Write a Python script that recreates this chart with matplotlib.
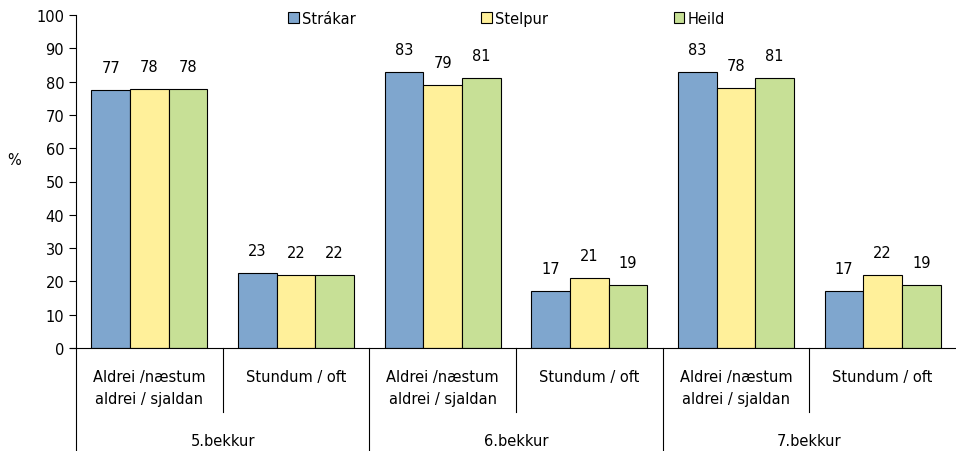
import matplotlib.pyplot as plt
import numpy as np

# values per sub-category (5., 6., 7. bekkur x two answers)
subcats = ["Aldrei /næstum\naldrei / sjaldan", "Stundum / oft"] * 3
groups = ["5.bekkur", "6.bekkur", "7.bekkur"]
strakar = [77.4, 22.6, 83.0, 17.0, 83.0, 17.0]
stelpur = [77.9, 22.0, 79.0, 21.0, 78.0, 22.0]
heild = [77.9, 22.0, 81.0, 19.0, 81.0, 19.0]
labels_strakar = ["77", "23", "83", "17", "83", "17"]
labels_stelpur = ["78", "22", "79", "21", "78", "22"]
labels_heild = ["78", "22", "81", "19", "81", "19"]

series = [
    ("Strákar", strakar, labels_strakar, "#7FA6CE"),
    ("Stelpur", stelpur, labels_stelpur, "#FFF09A"),
    ("Heild", heild, labels_heild, "#C7E096"),
]

plt.rcParams['font.family'] = 'DejaVu Sans'
fig = plt.figure(figsize=(9.56, 4.52), dpi=100)
ax = fig.add_axes([76 / 956, 1 - 349 / 452, 880 / 956, 333 / 452])

x = np.arange(len(subcats))
w = 0.263
for i, (name, vals, labs, col) in enumerate(series):
    xs = x + (i - 1) * w
    ax.bar(xs, vals, width=w, color=col, edgecolor="black", linewidth=0.8, label=name)
    for xi, v, t in zip(xs, vals, labs):
        ax.annotate(t, (xi, v), xytext=(0, 15), textcoords="offset pixels",
                    ha="center", va="bottom", fontsize=10.5)

ax.set_xlim(-0.5, 5.5)
ax.set_ylim(0, 100)
ax.set_yticks(range(0, 101, 10))
ax.tick_params(axis="y", labelsize=10.5, length=5, width=0.8, direction="out")
ax.set_xticks([])
ax.spines["top"].set_visible(False)
ax.spines["right"].set_visible(False)
ax.spines["left"].set_linewidth(0.8)
ax.spines["bottom"].set_linewidth(0.8)
ax.set_ylabel("%", rotation=0, fontsize=10.5)
ax.yaxis.set_label_coords(-0.07, 0.545)

# two-level category axis
trans = ax.get_xaxis_transform()
for xi, t in zip(x, subcats):
    ax.annotate(t, (xi, 0), xycoords=trans, xytext=(0, -21), textcoords="offset pixels",
                ha="center", va="top", fontsize=10.5, linespacing=1.55)
for j, g in enumerate(groups):
    ax.annotate(g, (2 * j + 0.5, 0), xycoords=trans, xytext=(0, -85), textcoords="offset pixels",
                ha="center", va="top", fontsize=10.5)
for b in [0.5, 2.5, 4.5]:
    ax.plot([b, b], [0, -64 / 333], transform=trans, color="black", lw=0.8, clip_on=False)
for b in [-0.5, 1.5, 3.5]:
    ax.plot([b, b], [0, -103 / 333], transform=trans, color="black", lw=0.8, clip_on=False)
ax.plot([-0.5 - 0.04, -0.5], [0, 0], transform=trans, color="black", lw=0.8, clip_on=False)

leg = ax.legend(loc="upper left", bbox_to_anchor=(205 / 880, 1.035), ncol=3, frameon=False,
                fontsize=10.5, handlelength=0.7, handleheight=0.7, handletextpad=0.25,
                columnspacing=8.6, borderpad=0)

fig.savefig("out.png", dpi=100)
